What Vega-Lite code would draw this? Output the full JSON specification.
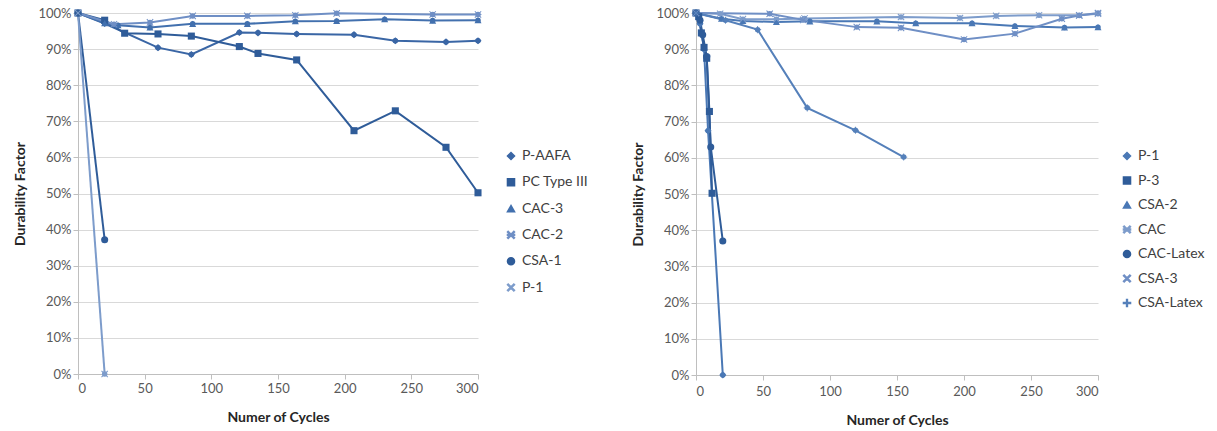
{
  "$schema": "https://vega.github.io/schema/vega-lite/v6.json",
  "padding": {"left": 13, "top": 7, "right": 0, "bottom": 0},
  "background": "white",
  "config": {
    "font": "Lato",
    "view": {"stroke": null},
    "axis": {
      "labelFont": "Lato", "labelFontSize": 13, "labelColor": "#595959",
      "titleFont": "Lato", "titleFontSize": 14, "titleFontWeight": "bold", "titleColor": "#262626",
      "gridColor": "#D9D9D9", "domainColor": "#BFBFBF", "tickColor": "#BFBFBF", "tickSize": 5
    },
    "legend": {"labelFont": "Lato", "labelFontSize": 14, "labelColor": "#404040"}
  },
  "datasets": {
    "left": [
      {"s": "P-AAFA", "x": 0, "y": 1}, {"s": "P-AAFA", "x": 20, "y": 0.971}, {"s": "P-AAFA", "x": 60, "y": 0.904}, {"s": "P-AAFA", "x": 85, "y": 0.885}, {"s": "P-AAFA", "x": 121, "y": 0.946}, {"s": "P-AAFA", "x": 135, "y": 0.945}, {"s": "P-AAFA", "x": 164, "y": 0.942}, {"s": "P-AAFA", "x": 207, "y": 0.94}, {"s": "P-AAFA", "x": 238, "y": 0.923}, {"s": "P-AAFA", "x": 276, "y": 0.92}, {"s": "P-AAFA", "x": 300, "y": 0.923},
      {"s": "PC Type III", "x": 0, "y": 1}, {"s": "PC Type III", "x": 20, "y": 0.98}, {"s": "PC Type III", "x": 35, "y": 0.944}, {"s": "PC Type III", "x": 60, "y": 0.942}, {"s": "PC Type III", "x": 85, "y": 0.936}, {"s": "PC Type III", "x": 121, "y": 0.907}, {"s": "PC Type III", "x": 135, "y": 0.888}, {"s": "PC Type III", "x": 164, "y": 0.87}, {"s": "PC Type III", "x": 207, "y": 0.674}, {"s": "PC Type III", "x": 238, "y": 0.729}, {"s": "PC Type III", "x": 276, "y": 0.628}, {"s": "PC Type III", "x": 300, "y": 0.502},
      {"s": "CAC-3", "x": 0, "y": 1}, {"s": "CAC-3", "x": 20, "y": 0.972}, {"s": "CAC-3", "x": 30, "y": 0.966}, {"s": "CAC-3", "x": 54, "y": 0.96}, {"s": "CAC-3", "x": 86, "y": 0.97}, {"s": "CAC-3", "x": 127, "y": 0.97}, {"s": "CAC-3", "x": 163, "y": 0.977}, {"s": "CAC-3", "x": 194, "y": 0.978}, {"s": "CAC-3", "x": 230, "y": 0.983}, {"s": "CAC-3", "x": 266, "y": 0.979}, {"s": "CAC-3", "x": 300, "y": 0.98},
      {"s": "CAC-2", "x": 0, "y": 1}, {"s": "CAC-2", "x": 27, "y": 0.969}, {"s": "CAC-2", "x": 54, "y": 0.974}, {"s": "CAC-2", "x": 86, "y": 0.992}, {"s": "CAC-2", "x": 127, "y": 0.992}, {"s": "CAC-2", "x": 163, "y": 0.994}, {"s": "CAC-2", "x": 194, "y": 0.999}, {"s": "CAC-2", "x": 266, "y": 0.996}, {"s": "CAC-2", "x": 300, "y": 0.996},
      {"s": "CSA-1", "x": 0, "y": 1}, {"s": "CSA-1", "x": 20, "y": 0.372},
      {"s": "P-1", "x": 0, "y": 1}, {"s": "P-1", "x": 20, "y": 0.0}
    ],
    "right": [
      {"s": "P-1", "x": 0, "y": 1}, {"s": "P-1", "x": 3, "y": 0.97}, {"s": "P-1", "x": 6, "y": 0.9}, {"s": "P-1", "x": 9, "y": 0.675}, {"s": "P-1", "x": 20, "y": 0.0},
      {"s": "P-3", "x": 0, "y": 1}, {"s": "P-3", "x": 2, "y": 0.99}, {"s": "P-3", "x": 4, "y": 0.945}, {"s": "P-3", "x": 6, "y": 0.905}, {"s": "P-3", "x": 8, "y": 0.875}, {"s": "P-3", "x": 10, "y": 0.728}, {"s": "P-3", "x": 12, "y": 0.502},
      {"s": "CSA-2", "x": 0, "y": 1}, {"s": "CSA-2", "x": 19, "y": 0.984}, {"s": "CSA-2", "x": 35, "y": 0.978}, {"s": "CSA-2", "x": 60, "y": 0.975}, {"s": "CSA-2", "x": 85, "y": 0.977}, {"s": "CSA-2", "x": 135, "y": 0.977}, {"s": "CSA-2", "x": 164, "y": 0.972}, {"s": "CSA-2", "x": 206, "y": 0.972}, {"s": "CSA-2", "x": 238, "y": 0.964}, {"s": "CSA-2", "x": 275, "y": 0.96}, {"s": "CSA-2", "x": 300, "y": 0.961},
      {"s": "CAC", "x": 0, "y": 1}, {"s": "CAC", "x": 18, "y": 0.998}, {"s": "CAC", "x": 35, "y": 0.983}, {"s": "CAC", "x": 60, "y": 0.983}, {"s": "CAC", "x": 81, "y": 0.985}, {"s": "CAC", "x": 153, "y": 0.989}, {"s": "CAC", "x": 197, "y": 0.986}, {"s": "CAC", "x": 224, "y": 0.992}, {"s": "CAC", "x": 256, "y": 0.994}, {"s": "CAC", "x": 286, "y": 0.994}, {"s": "CAC", "x": 300, "y": 0.998},
      {"s": "CAC-Latex", "x": 0, "y": 1}, {"s": "CAC-Latex", "x": 3, "y": 0.98}, {"s": "CAC-Latex", "x": 5, "y": 0.94}, {"s": "CAC-Latex", "x": 8, "y": 0.88}, {"s": "CAC-Latex", "x": 11, "y": 0.63}, {"s": "CAC-Latex", "x": 20, "y": 0.37},
      {"s": "CSA-3", "x": 0, "y": 1}, {"s": "CSA-3", "x": 55, "y": 0.998}, {"s": "CSA-3", "x": 80, "y": 0.981}, {"s": "CSA-3", "x": 120, "y": 0.961}, {"s": "CSA-3", "x": 153, "y": 0.959}, {"s": "CSA-3", "x": 200, "y": 0.927}, {"s": "CSA-3", "x": 238, "y": 0.943}, {"s": "CSA-3", "x": 273, "y": 0.984}, {"s": "CSA-3", "x": 286, "y": 0.993}, {"s": "CSA-3", "x": 300, "y": 1.0},
      {"s": "CSA-Latex", "x": 0, "y": 1}, {"s": "CSA-Latex", "x": 22, "y": 0.98}, {"s": "CSA-Latex", "x": 46, "y": 0.954}, {"s": "CSA-Latex", "x": 83, "y": 0.738}, {"s": "CSA-Latex", "x": 119, "y": 0.676}, {"s": "CSA-Latex", "x": 155, "y": 0.602}
    ]
  },
  "resolve": {"scale": {"color": "independent", "shape": "independent", "x": "independent", "y": "independent"}},
  "spacing": 42,
  "hconcat": [
    {
      "width": 400, "height": 361,
      "data": {"name": "left"},
      "encoding": {
        "x": {"field": "x", "type": "quantitative", "scale": {"domain": [0, 300], "nice": false}, "axis": {"values": [0, 50, 100, 150, 200, 250, 300], "title": "Numer of Cycles", "grid": false, "titlePadding": 15, "labelPadding": 3}},
        "y": {"field": "y", "type": "quantitative", "scale": {"domain": [0, 1], "nice": false}, "axis": {"format": ".0%", "values": [0, 0.1, 0.2, 0.3, 0.4, 0.5, 0.6, 0.7, 0.8, 0.9, 1], "title": "Durability Factor", "titlePadding": 10, "domain": true}},
        "color": {"field": "s", "type": "nominal", "scale": {"domain": ["P-AAFA", "PC Type III", "CAC-3", "CAC-2", "CSA-1", "P-1"], "range": ["#3A66A5", "#2F5C99", "#4270AE", "#6F8FC5", "#2F5C99", "#7D9CCB"]}, "legend": {"title": null, "orient": "none", "legendX": 426, "legendY": 136, "rowPadding": 12.3, "symbolSize": 50}},
        "shape": {"field": "s", "type": "nominal", "scale": {"domain": ["P-AAFA", "PC Type III", "CAC-3", "CAC-2", "CSA-1", "P-1"], "range": ["diamond", "square", "triangle-up", "M-1,-0.8L-0.8,-1L0,-0.2L0.8,-1L1,-0.8L0.2,0L1,0.8L0.8,1L0,0.2L-0.8,1L-1,0.8L-0.2,0ZM-1,-0.12L1,-0.12L1,0.12L-1,0.12Z", "circle", "M-1,-0.8L-0.8,-1L0,-0.2L0.8,-1L1,-0.8L0.2,0L1,0.8L0.8,1L0,0.2L-0.8,1L-1,0.8L-0.2,0Z"]}, "legend": {"title": null, "orient": "none", "legendX": 426, "legendY": 136, "rowPadding": 12.3, "symbolSize": 50}}
      },
      "layer": [
        {"mark": {"type": "line", "strokeWidth": 2}, "encoding": {"shape": {"value": null}}},
        {"mark": {"type": "point", "filled": true, "opacity": 1, "size": 50}}
      ]
    },
    {
      "width": 402, "height": 362,
      "data": {"name": "right"},
      "encoding": {
        "x": {"field": "x", "type": "quantitative", "scale": {"domain": [0, 300], "nice": false}, "axis": {"values": [0, 50, 100, 150, 200, 250, 300], "title": "Numer of Cycles", "grid": false, "titlePadding": 15, "labelPadding": 5}},
        "y": {"field": "y", "type": "quantitative", "scale": {"domain": [0, 1], "nice": false}, "axis": {"format": ".0%", "values": [0, 0.1, 0.2, 0.3, 0.4, 0.5, 0.6, 0.7, 0.8, 0.9, 1], "title": "Durability Factor", "titlePadding": 10}},
        "color": {"field": "s", "type": "nominal", "scale": {"domain": ["P-1", "P-3", "CSA-2", "CAC", "CAC-Latex", "CSA-3", "CSA-Latex"], "range": ["#4A78B5", "#2F5C99", "#4A78B5", "#7D9CCB", "#2F5C99", "#6F8FC5", "#5580BA"]}, "legend": {"title": null, "orient": "none", "legendX": 424, "legendY": 136, "rowPadding": 10.5, "symbolSize": 50}},
        "shape": {"field": "s", "type": "nominal", "scale": {"domain": ["P-1", "P-3", "CSA-2", "CAC", "CAC-Latex", "CSA-3", "CSA-Latex"], "range": ["diamond", "square", "triangle-up", "M-1,-0.8L-0.8,-1L0,-0.2L0.8,-1L1,-0.8L0.2,0L1,0.8L0.8,1L0,0.2L-0.8,1L-1,0.8L-0.2,0ZM-1,-0.12L1,-0.12L1,0.12L-1,0.12Z", "circle", "M-1,-0.8L-0.8,-1L0,-0.2L0.8,-1L1,-0.8L0.2,0L1,0.8L0.8,1L0,0.2L-0.8,1L-1,0.8L-0.2,0Z", "M-1,-0.12L1,-0.12L1,0.12L-1,0.12ZM-0.12,-1L0.12,-1L0.12,1L-0.12,1Z"]}, "legend": {"title": null, "orient": "none", "legendX": 424, "legendY": 136, "rowPadding": 10.5, "symbolSize": 50}}
      },
      "layer": [
        {"mark": {"type": "line", "strokeWidth": 2}, "encoding": {"shape": {"value": null}}},
        {"mark": {"type": "point", "filled": true, "opacity": 1, "size": 50}}
      ]
    }
  ]
}
